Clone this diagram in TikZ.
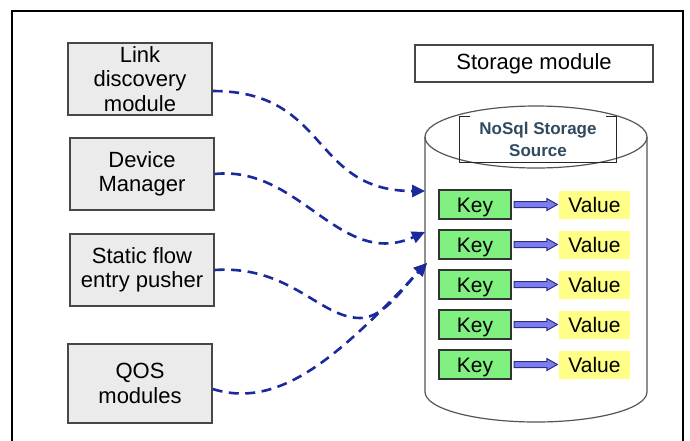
\documentclass[tikz,border=0pt]{standalone}
\usepackage{fontspec}
\setmainfont{Liberation Sans}
\usetikzlibrary{arrows.meta}
\definecolor{boxgray}{HTML}{EBEBEB}
\definecolor{boxline}{HTML}{474747}
\definecolor{dashblue}{HTML}{1A2A9C}
\definecolor{keygreen}{HTML}{80F080}
\definecolor{valyellow}{HTML}{FFFF88}
\definecolor{fatfill}{HTML}{7C7CF2}
\definecolor{fatline}{HTML}{2F2F80}
\definecolor{nosqltext}{HTML}{2F4A5F}
\definecolor{cylline}{HTML}{555555}
\begin{document}
\begin{tikzpicture}[x=1pt,y=-1pt,
 module/.style={draw=boxline, fill=boxgray, line width=1.4pt, minimum width=144pt, minimum height=72pt, inner sep=0pt, align=center, font=\fontsize{22}{24.5}\selectfont},
 keybox/.style={draw=black!80, fill=keygreen, line width=1.2pt, minimum width=72pt, minimum height=29pt, inner sep=0pt, text height=16pt, text depth=1pt, font=\fontsize{21}{24}\selectfont},
 valbox/.style={fill=valyellow, minimum width=71pt, minimum height=28pt, inner sep=0pt, text height=16pt, text depth=1pt, font=\fontsize{21}{24}\selectfont},
 flow/.style={draw=dashblue, line width=2.6pt, dash pattern=on 10pt off 6.5pt, -{Triangle[length=13pt,width=12pt]}},
 fatarrow/.style={fill=fatfill, draw=fatline, line width=1pt, line join=miter},
]
\useasboundingbox (0,0) rectangle (690,440);
\clip (0,0) rectangle (690,440);
% outer frame
\draw[line width=2pt] (12,470) -- (12,11) -- (683,11) -- (683,470);

% left modules
\node[module] (link) at (140,79) {Link\\discovery\\module};
\node[module] (dev) at (142,174) {Device\\Manager};
\node[module] (static) at (142,270) {Static flow\\entry pusher};
\node[module, minimum height=79pt] (qos) at (140,383.5) {QOS\\modules};

% storage module label
\node[draw=boxline, line width=1.4pt, minimum width=238pt, minimum height=37pt, inner sep=0pt, font=\fontsize{22}{24}\selectfont] (storage) at (534,63.5) {Storage module};

% cylinder
\filldraw[draw=cylline, fill=white, line width=1.2pt] (425,137) -- (425,392) .. controls (425,408.6) and (474.7,422) .. (536,422) .. controls (597.3,422) and (647,408.6) .. (647,392) -- (647,137);
\draw[draw=cylline, line width=1.2pt] (536,137) ellipse [x radius=111, y radius=31];

% NoSql label
\node[font=\bfseries\fontsize{17}{22}\selectfont, text=nosqltext, align=center, minimum width=156pt, minimum height=45pt, inner sep=0pt] (nosql) at (538,139.5) {NoSql Storage\\Source};
\draw[line width=1.1pt, black!85] ([xshift=10pt]nosql.north west) -- (nosql.north west) -- (nosql.south west) -- (nosql.south east) -- (nosql.north east) -- ([xshift=-10pt]nosql.north east);

% key / value rows
\foreach \i/\y in {1/204.5, 2/244.5, 3/284.5, 4/324.5, 5/364.5} {
  \node[keybox] (k\i) at (475,\y) {Key};
  \node[valbox] (v\i) at (594.5,\y) {Value};
  \filldraw[fatarrow] ([xshift=2.5pt,yshift=3pt]k\i.east) -- ([xshift=-12pt,yshift=3pt]v\i.west) -- ([xshift=-12pt,yshift=6pt]v\i.west) -- ([xshift=-1.5pt]v\i.west) -- ([xshift=-12pt,yshift=-6pt]v\i.west) -- ([xshift=-12pt,yshift=-3pt]v\i.west) -- ([xshift=2.5pt,yshift=-3pt]k\i.east) -- cycle;
}

% arrow targets on the cylinder
\coordinate (t1) at (425,191);
\coordinate (t2) at (425,232);
\coordinate (t3) at (427,263);

% dashed flows
\draw[flow] ([yshift=-12pt]link.east) .. controls (330,91) and (310,191) .. (t1);
\draw[flow] (dev.east) .. controls (300,165) and (340,270) .. (t2);
\draw[flow] (static.east) .. controls (290,265) and (320,318) .. (360,318) .. controls (385,318) and (405,285) .. (t3);
\draw[flow] ([yshift=-5.5pt]qos.east) .. controls (280,410) and (340,355) .. (t3);
\end{tikzpicture}
\end{document}
